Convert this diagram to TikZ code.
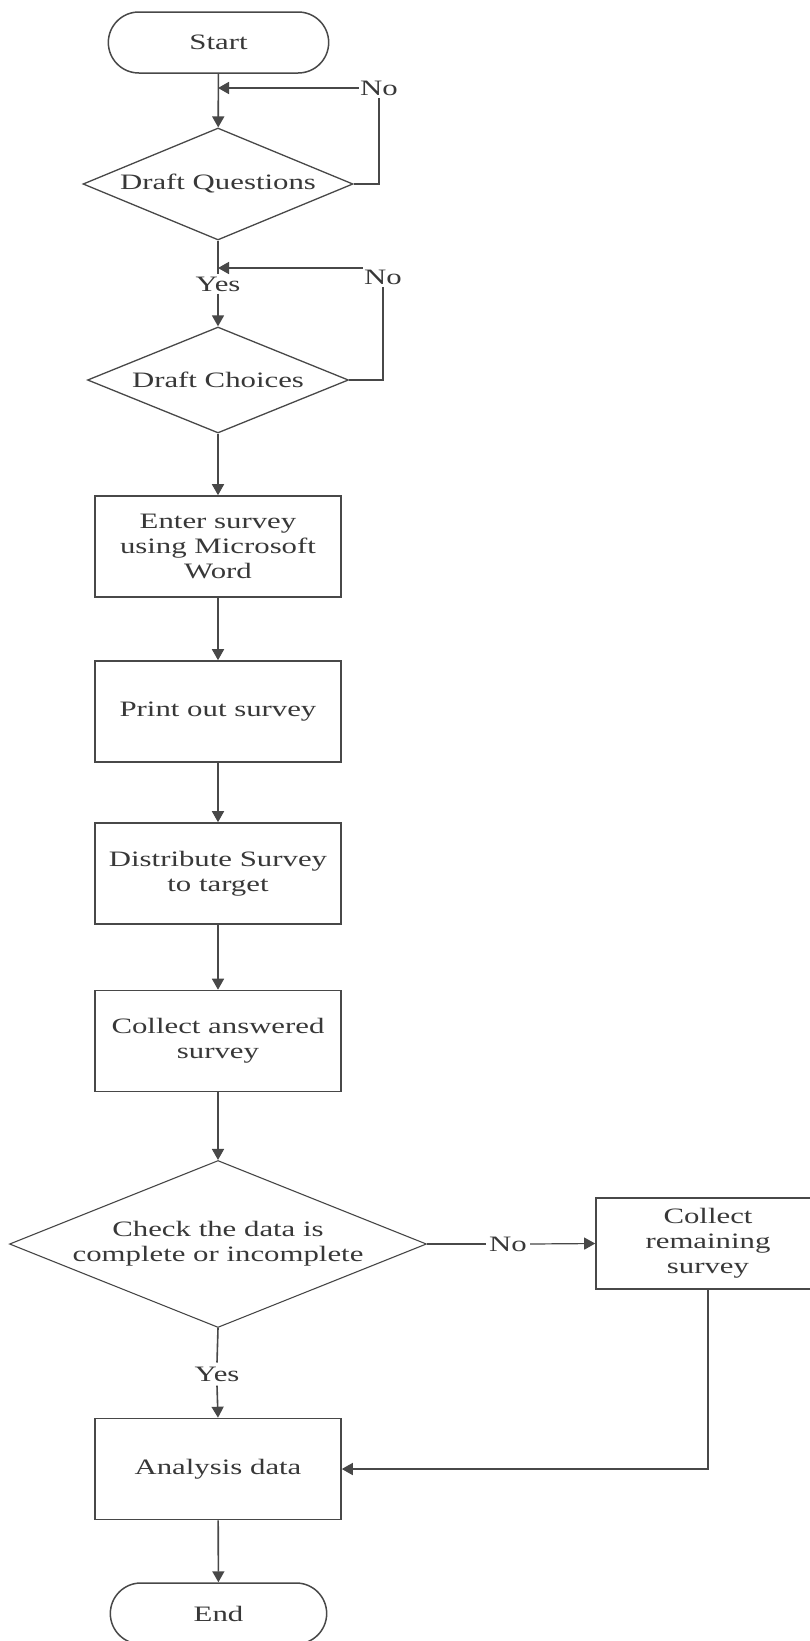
\documentclass[tikz,border=0pt]{standalone}
\usepackage{fontspec}
\setmainfont[FakeStretch=1.4]{Liberation Serif}
\usetikzlibrary{shapes.geometric,shapes.misc,arrows.meta}
\definecolor{ln}{HTML}{484848}
\definecolor{tx}{HTML}{383838}
\tikzset{
  every node/.style={font=\fontsize{22pt}{25pt}\selectfont, text=tx},
  term/.style={rounded rectangle, draw=ln, line width=1.5pt, minimum width=227pt, minimum height=61pt},
  proc/.style={rectangle, draw=ln, line width=1.6pt, minimum width=246pt, minimum height=101pt, align=center, inner sep=0pt},
  dec/.style={diamond, draw=ln, line width=1.3pt, align=center, inner sep=0pt},
  lbl/.style={fill=white, inner xsep=1pt, inner ysep=2pt},
  conn/.style={draw=ln, line width=1.6pt},
  arr/.style={conn, -{Triangle[length=11pt,width=12pt]}}
}
\begin{document}
\begin{tikzpicture}[x=1pt,y=-1pt]
\useasboundingbox[fill=white] (0,0) rectangle (809,1641);
% nodes
\node[term] (start) at (218.5,42.5) {Start};
\node[dec, aspect=2.41, minimum width=270pt, minimum height=112pt] (d1) at (218,184) {Draft Questions};
\node[dec, aspect=2.46, minimum width=261pt, minimum height=106pt] (d2) at (218,380) {Draft Choices};
\node[proc] (b1) at (218,546.5) {Enter survey\\using Microsoft\\Word};
\node[proc] (b2) at (218,711.5) {Print out survey};
\node[proc] (b3) at (218,873.5) {Distribute Survey\\to target};
\node[proc] (b4) at (218,1041) {Collect answered\\survey};
\node[dec, aspect=2.5, minimum width=417pt, minimum height=167pt, line width=1.1pt] (d3) at (218,1244) {Check the data is\\complete or incomplete};
\node[proc, minimum width=224pt, minimum height=91pt] (b5) at (708,1243.5) {Collect\\remaining\\survey};
\node[proc] (b6) at (218,1469) {Analysis data};
\node[term, minimum width=223pt] (end) at (218.5,1613.5) {End};
% labels
\node[lbl] (no1) at (379,88) {No};
\coordinate (j1) at (218,88);
\node[lbl, anchor=north] (no2) at (383,268) {No};
\node[lbl] (yes1) at (218,284) {Yes};
\node[lbl, inner xsep=3pt] (no3) at (508,1244) {No};
\node[lbl, inner ysep=4pt] (yes3) at (217,1374) {Yes};
% connectors
\draw[arr] (start) -- (d1);
\draw[conn] (d1.east) -| (no1.south);
\draw[arr] (no1.west) -- (j1);
\draw[conn] (d1.south) -- (yes1.north);
\draw[arr] (yes1.south) -- (d2.north);
\draw[conn] (d2.east) -| (no2.south);
\draw[arr] (no2.north west) -- (no2.north west -| d1.south);
\draw[arr] (d2.south) -- (b1.north);
\draw[arr] (b1) -- (b2);
\draw[arr] (b2) -- (b3);
\draw[arr] (b3) -- (b4);
\draw[arr] (b4.south) -- (d3.north);
\draw[conn, line width=1.2pt] (d3.east) -- (no3.west);
\draw[arr, line width=1.2pt] (no3.east) -- (b5.west);
\draw[conn] (d3.south) -- (yes3.north);
\draw[arr] (yes3.south) -- (b6.north);
\draw[arr] (b5.south) |- (b6.east);
\draw[arr] (b6) -- (end);
\end{tikzpicture}
\end{document}
